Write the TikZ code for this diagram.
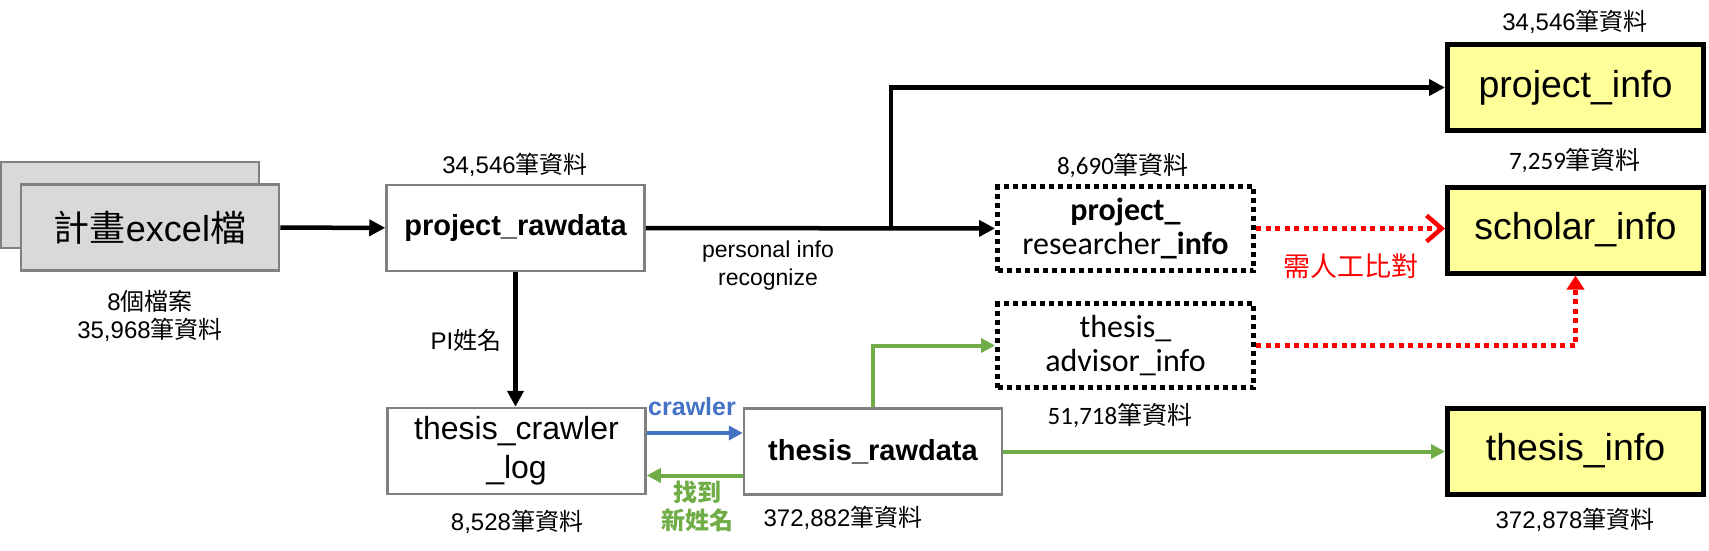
\documentclass[tikz,border=0pt]{standalone}
\usepackage{fontspec}
\setmainfont{Liberation Sans}
\newfontfamily\cjk{Noto Sans CJK TC}
\newfontfamily\calfont{Carlito}
\usetikzlibrary{arrows.meta,positioning}
\definecolor{boxgray}{HTML}{808080}
\definecolor{filegray}{HTML}{D9D9D9}
\definecolor{yel}{HTML}{FFFF99}
\definecolor{myblue}{HTML}{4472C4}
\definecolor{mygreen}{HTML}{70AD47}
\definecolor{myred}{HTML}{FF0000}
\newcommand{\cnt}[1]{#1{\cjk 筆資料}}
\begin{document}
\begin{tikzpicture}[x=1pt,y=-1pt,
    box/.style={draw=boxgray,line width=2.5pt,minimum width=258pt,minimum height=86pt,inner sep=0pt,align=center},
    gbox/.style={box,fill=filegray},
    dotbox/.style={draw=black,line width=5pt,dash pattern=on 5pt off 4pt,minimum width=256pt,minimum height=84pt,inner sep=0pt,align=center,font=\calfont\fontsize{32}{34}\selectfont},
    finalbox/.style={draw=black,line width=5pt,fill=yel,minimum width=256pt,minimum height=86pt,inner sep=0pt,font=\fontsize{37.5}{40}\selectfont},
    count/.style={inner sep=0pt,font=\fontsize{24}{28}\selectfont},
    ccount/.style={inner sep=0pt,font=\calfont\fontsize{25}{28}\selectfont},
    arr/.style={line width=4.5pt,-{Triangle[length=16pt,width=16pt]}},
    carr/.style={line width=4pt,-{Triangle[length=14pt,width=14pt]}},
    reddot/.style={myred,line width=4.5pt,dash pattern=on 5pt off 4.5pt}]
\useasboundingbox (0,0) rectangle (1709,551);
% source files
\node[gbox] (excelbk) at (130,205) {};
\node[gbox,font=\fontsize{36}{40}\selectfont] (excel) at (150,227.5) {{\cjk 計畫}excel{\cjk 檔}};
\node[count,align=center] (excelcnt) at (150,316) {8{\cjk 個檔案}\\\cnt{35,968}};
% raw tables
\node[box,font=\bfseries\fontsize{29}{32}\selectfont] (prawdata) at (515.5,228) {project\_rawdata};
\node[count] (prawcnt) at (515,165) {\cnt{34,546}};
\node[box,font=\fontsize{32}{39}\selectfont] (crawllog) at (516.5,451) {thesis\_crawler\\\_log};
\node[count] (crawlcnt) at (517,522) {\cnt{8,528}};
\node[box,font=\bfseries\fontsize{29}{32}\selectfont] (trawdata) at (873,451.5) {thesis\_rawdata};
\node[count] (trawcnt) at (843,518) {\cnt{372,882}};
% intermediate tables
\node[dotbox] (prinfo) at (1125.5,228.5) {\textbf{project\_}\\researcher\textbf{\_info}};
\node[ccount] (prinfocnt) at (1123,165) {\cnt{8,690}};
\node[dotbox] (advinfo) at (1125.5,345.5) {thesis\_\\advisor\_info};
\node[ccount] (advcnt) at (1120,415) {\cnt{51,718}};
% final tables
\node[finalbox] (pinfo) at (1575.5,87.5) {project\_info};
\node[count] (pinfocnt) at (1575,22) {\cnt{34,546}};
\node[finalbox] (sinfo) at (1575.5,230) {scholar\_info};
\node[ccount] (sinfocnt) at (1575,160) {\cnt{7,259}};
\node[finalbox] (tinfo) at (1575.5,451) {thesis\_info};
\node[count] (tinfocnt) at (1575,520) {\cnt{372,878}};
% labels
\node[inner sep=0pt,align=center,font=\fontsize{23}{28}\selectfont] (recoglbl) at (768,266) {personal info\\recognize};
\node[count] (pilbl) at (466,340) {PI{\cjk 姓名}};
\node[inner sep=0pt,text=myblue,font=\bfseries\fontsize{25}{28}\selectfont] (crawllbl) at (692,407) {crawler};
\node[inner sep=0pt,text=mygreen,align=center,font=\cjk\bfseries\fontsize{24}{28}\selectfont] (foundlbl) at (697,506) {找到\\新姓名};
\node[inner sep=0pt,text=myred,font=\cjk\fontsize{27}{30}\selectfont] (manuallbl) at (1351,266) {需人工比對};
% connectors
\coordinate (split) at (891,228);
\draw[arr] (excel) -- (prawdata);
\draw[arr] (prawdata) -- (prinfo);
\draw[arr] (split) |- (pinfo);
\draw[arr] (prawdata.south) -- (prawdata.south |- crawllog.north);
\draw[carr,myblue] ([yshift=18pt]crawllog.east) -- ([yshift=18pt]crawllog.east -| trawdata.west);
\draw[carr,mygreen] ([yshift=-24pt]trawdata.west) -- ([yshift=-24pt]trawdata.west -| crawllog.east);
\draw[carr,mygreen] (trawdata) |- (advinfo);
\draw[carr,mygreen] (trawdata.east) -- (trawdata.east -| tinfo.west);
\draw[reddot,-{Straight Barb[length=15pt,width=26pt]}] (prinfo.east) -- (prinfo.east -| sinfo.west);
\draw[reddot,-{Triangle[length=14pt,width=17pt]}] (advinfo.east) -| (sinfo.south);
\end{tikzpicture}
\end{document}
